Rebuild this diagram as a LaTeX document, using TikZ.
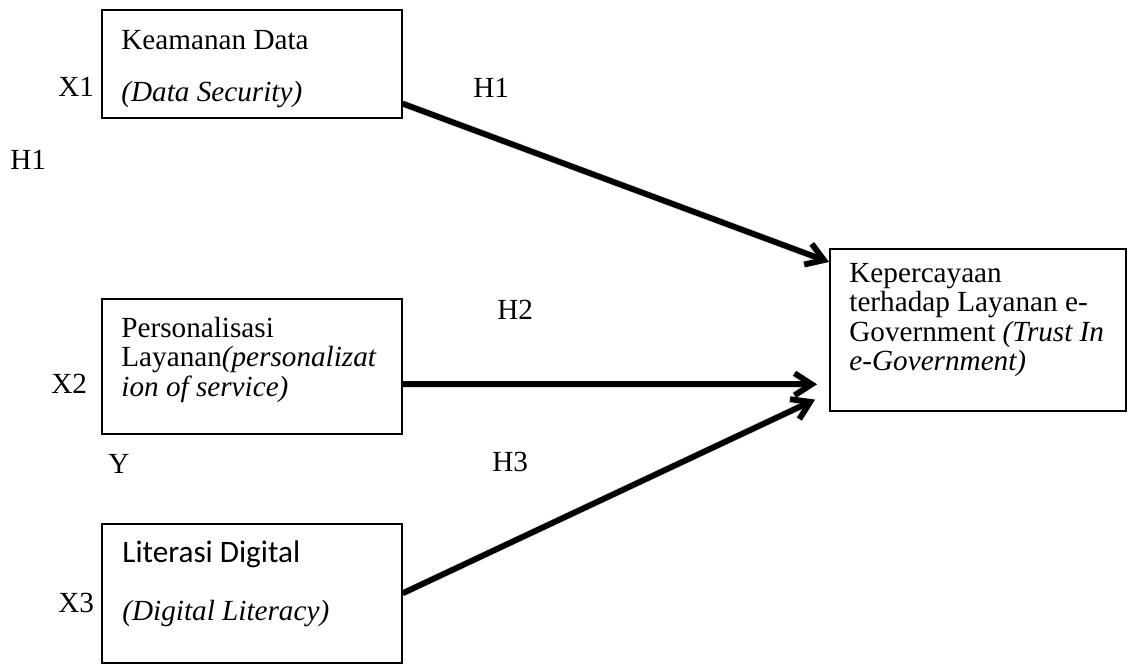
\documentclass[tikz,border=0pt]{standalone}
\usepackage{fontspec}
\setmainfont{Liberation Serif}
\newfontfamily\calibrifont{Carlito}
\usetikzlibrary{arrows.meta}
\tikzset{
  box/.style={draw=black, line width=0.8pt, inner sep=0pt, anchor=north west},
  txt/.style={anchor=base west, inner sep=0pt, font=\fontsize{14.6}{15}\selectfont},
  arr/.style={line width=2.9pt, -{Straight Barb[length=8.5pt, width=11pt, line width=2.9pt]}},
  arrshadow/.style={line width=3.6pt, black, opacity=0.12, -{Straight Barb[length=8.5pt, width=11pt, line width=3.6pt]}}
}
\begin{document}
\begin{tikzpicture}[x=0.5pt,y=-0.5pt]
\useasboundingbox (0,0) rectangle (1128,664);
% boxes
\node[box, minimum width=150pt, minimum height=54pt] (b1) at (101,9) {};
\node[box, minimum width=150pt, minimum height=67.5pt] (b2) at (101,298) {};
\node[box, minimum width=150pt, minimum height=69.5pt] (b3) at (101,523) {};
\node[box, minimum width=148pt, minimum height=81pt] (b4) at (829,248) {};
% box texts
\node[txt] (t1a) at (121,49) {Keamanan Data};
\node[txt] (t1b) at (121,101) {\itshape (Data Security)};
\node[txt] (t2a) at (121,337) {Personalisasi};
\node[txt] (t2b) at (121,366) {Layanan\itshape(personalizat};
\node[txt] (t2c) at (121,396) {\itshape ion of service)};
\node[txt, font=\calibrifont\fontsize{15.6}{15}\selectfont] (t3a) at (122,562) {Literasi Digital};
\node[txt] (t3b) at (122,620) {\itshape (Digital Literacy)};
\node[txt] (t4a) at (849,282) {Kepercayaan};
\node[txt] (t4b) at (849,311.5) {terhadap Layanan e-};
\node[txt] (t4c) at (849,341) {Government \itshape(Trust In};
\node[txt] (t4d) at (849,370.5) {\itshape e-Government)};
% side labels
\node[txt] (x1) at (58,96) {X1};
\node[txt] (x2) at (51,393) {X2};
\node[txt] (x3) at (58,612) {X3};
\node[txt] (y) at (108,473) {Y};
\node[txt] (h1a) at (473,97) {H1};
\node[txt] (h1b) at (10,169) {H1};
\node[txt] (h2) at (497,319) {H2};
\node[txt] (h3) at (492,471) {H3};
% arrow shadows
\begin{scope}[shift={(2.5,3.5)}]
\draw[arrshadow] ([yshift=7.5pt]b1.south east) -- ([yshift=-7pt]b4.north west);
\draw[arrshadow] ([yshift=-9pt]b2.east) coordinate (q2) -- ([xshift=-6pt]q2 -| b4.west);
\draw[arrshadow] (b3.east) -- ([xshift=-7pt,yshift=6pt]b4.south west);
\end{scope}
% arrows
\draw[arr] ([yshift=7.5pt]b1.south east) -- ([yshift=-7pt]b4.north west);
\draw[arr] ([yshift=-9pt]b2.east) coordinate (p2) -- ([xshift=-6pt]p2 -| b4.west);
\draw[arr] (b3.east) -- ([xshift=-7pt,yshift=6pt]b4.south west);
\end{tikzpicture}
\end{document}
